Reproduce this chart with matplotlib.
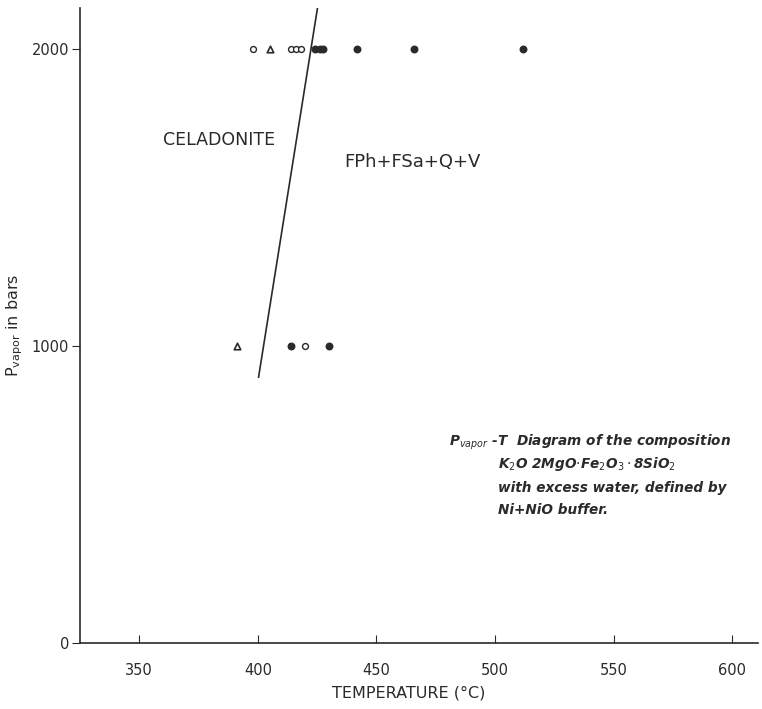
import matplotlib
matplotlib.use("Agg")
import matplotlib.pyplot as plt

# Data
open_circle_T = [398, 414, 416, 418, 420]
open_circle_P = [2000, 2000, 2000, 2000, 1000]
filled_circle_T = [424, 426, 427.5, 442, 466, 512, 414, 430]
filled_circle_P = [2000, 2000, 2000, 2000, 2000, 2000, 1000, 1000]
triangle_T = [405, 391]
triangle_P = [2000, 1000]
boundary_T = [400.3, 425.8]
boundary_P = [895, 2170]
x_ticks = [350, 400, 450, 500, 550, 600]
y_ticks = [0, 1000, 2000]

ink = "#2a2a2a"
fig = plt.figure(figsize=(7.62, 7.09), dpi=100)
ax = fig.add_axes([0.105, 0.093, 0.890, 0.896])

ax.plot(boundary_T, boundary_P, color=ink, lw=1.2, clip_on=True)
ax.scatter(open_circle_T, open_circle_P, s=18, facecolors="white", edgecolors=ink, linewidths=1.0, zorder=3)
ax.scatter(filled_circle_T, filled_circle_P, s=22, color=ink, zorder=3)
ax.scatter(triangle_T, triangle_P, s=22, marker="^", facecolors="white", edgecolors=ink, linewidths=1.2, zorder=3)

ax.set_xlim(325, 611)
ax.set_ylim(0, 2138)
ax.set_xticks(x_ticks)
ax.set_yticks(y_ticks)
ax.tick_params(axis="x", direction="in", length=6, colors=ink, labelsize=10.5, pad=14)
ax.tick_params(axis="y", direction="out", length=6, colors=ink, labelsize=10.5, pad=2)
for s in ["top", "right"]:
    ax.spines[s].set_visible(False)
for s in ["left", "bottom"]:
    ax.spines[s].set_color(ink)
    ax.spines[s].set_linewidth(1.2)

ax.set_xlabel("TEMPERATURE (°C)", fontsize=11.5, color=ink, va="center")
ax.xaxis.set_label_coords(0.485, -0.079)
ax.set_ylabel(r"P$_{\mathregular{vapor}}$ in bars", fontsize=11.5, color=ink, va="center")
ax.yaxis.set_label_coords(-0.097, 0.5)

ax.text(383.7, 1694, "CELADONITE", ha="center", va="center", fontsize=12.5, color=ink)
ax.text(465.3, 1620, "FPh+FSa+Q+V", ha="center", va="center", fontsize=13, color=ink)

note_kw = dict(ha="left", va="center", fontsize=9.8, color=ink, style="italic", fontweight="bold")
ax.text(480.7, 677, r"P$_{vapor}$ -T  Diagram of the composition", **note_kw)
ax.text(501.3, 603, r"K$_2$O 2MgO$\cdot$Fe$_2$O$_3\cdot$8SiO$_2$", **note_kw)
ax.text(501.3, 522, "with excess water, defined by", **note_kw)
ax.text(501.3, 448, "Ni+NiO buffer.", **note_kw)

fig.savefig("out.png", dpi=100)
